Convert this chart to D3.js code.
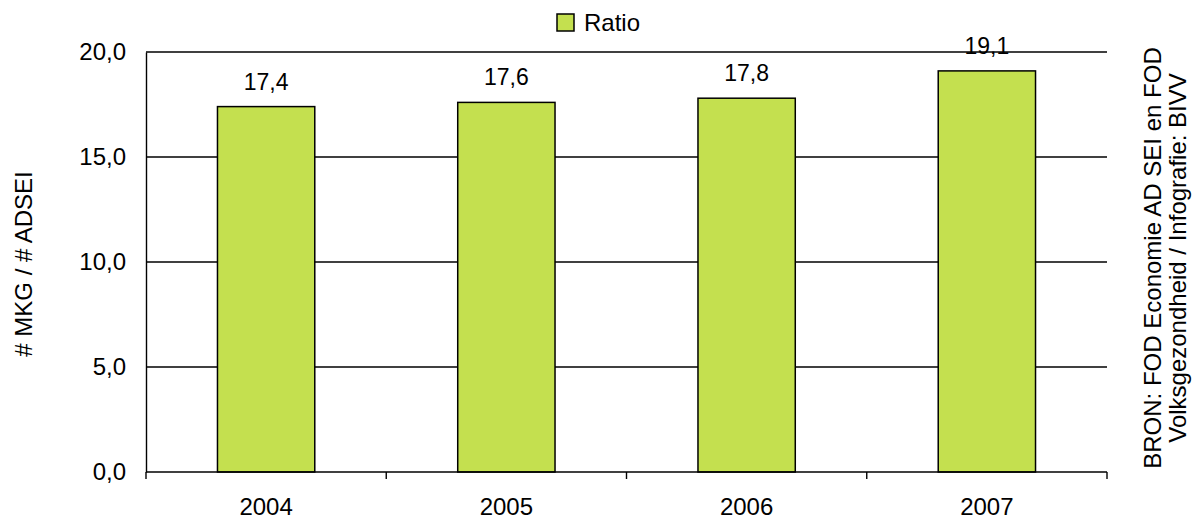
<!DOCTYPE html>
<html>
<head>
<meta charset="utf-8">
<script src="https://cdn.jsdelivr.net/npm/d3@7"></script>
<style>
  body { margin: 0; background: #fff; }
  svg { display: block; font-family: "Liberation Sans", Arial, sans-serif; }
</style>
</head>
<body>
<div id="chart"></div>
<script>
const years = ['2004', '2005', '2006', '2007'];
const ratio = [17.4, 17.6, 17.8, 19.1];
const yTicks = [0, 5, 10, 15, 20];
const seriesName = 'Ratio';
const yTitle = '# MKG / # ADSEI';
const sourceLines = ['BRON: FOD Economie AD SEI en FOD', 'Volksgezondheid / Infografie: BIVV'];

const width = 1192, height = 520;
const margin = { top: 52, right: 85, bottom: 48, left: 146 };
const barColor = '#c4e04f';
const fontSize = 24;
const fmt = v => d3.format('.1f')(v).replace('.', ',');

const svg = d3.select('#chart').append('svg')
  .attr('width', width)
  .attr('height', height);

const x = d3.scaleBand()
  .domain(years)
  .range([margin.left, width - margin.right])
  .paddingInner(0.595)
  .paddingOuter(0.2975);

const y = d3.scaleLinear()
  .domain([0, 20])
  .range([height - margin.bottom, margin.top]);

// gridlines
svg.append('g')
  .selectAll('line')
  .data(yTicks.filter(d => d > 0))
  .join('line')
  .attr('x1', margin.left)
  .attr('x2', width - margin.right)
  .attr('y1', d => y(d))
  .attr('y2', d => y(d))
  .attr('stroke', '#000')
  .attr('stroke-width', 1.4);

// y axis (no tick marks)
const yAxis = svg.append('g')
  .attr('transform', `translate(${margin.left},0)`)
  .call(d3.axisLeft(y).tickValues(yTicks).tickFormat(fmt).tickSize(0).tickPadding(20));
yAxis.select('.domain').attr('stroke', '#000').attr('stroke-width', 1.4);
yAxis.selectAll('text').attr('font-size', fontSize).attr('fill', '#000')
  .attr('font-family', '"Liberation Sans", Arial, sans-serif');

// bars
svg.append('g')
  .selectAll('rect')
  .data(years)
  .join('rect')
  .attr('x', d => x(d))
  .attr('y', (d, i) => y(ratio[i]))
  .attr('width', x.bandwidth())
  .attr('height', (d, i) => y(0) - y(ratio[i]))
  .attr('fill', barColor)
  .attr('stroke', '#000')
  .attr('stroke-width', 1.5);

// x axis with ticks between categories
const xg = svg.append('g');
const x0 = margin.left, x1 = width - margin.right;
xg.append('line')
  .attr('x1', x0).attr('x2', x1)
  .attr('y1', y(0)).attr('y2', y(0))
  .attr('stroke', '#000').attr('stroke-width', 1.4);
xg.selectAll('line.tick')
  .data(d3.range(years.length + 1))
  .join('line')
  .attr('class', 'tick')
  .attr('x1', i => x0 + i * (x1 - x0) / years.length)
  .attr('x2', i => x0 + i * (x1 - x0) / years.length)
  .attr('y1', y(0))
  .attr('y2', y(0) + 7)
  .attr('stroke', '#000').attr('stroke-width', 1.4);
xg.selectAll('text')
  .data(years)
  .join('text')
  .attr('x', d => x(d) + x.bandwidth() / 2)
  .attr('y', y(0) + 43)
  .attr('text-anchor', 'middle')
  .attr('font-size', fontSize)
  .text(d => d);

// value labels
svg.append('g')
  .selectAll('text')
  .data(years)
  .join('text')
  .attr('x', d => x(d) + x.bandwidth() / 2)
  .attr('y', (d, i) => y(ratio[i]) - 17)
  .attr('text-anchor', 'middle')
  .attr('font-size', fontSize - 1)
  .text((d, i) => fmt(ratio[i]));

// legend
const lg = svg.append('g').attr('transform', 'translate(557,14)');
lg.append('rect')
  .attr('width', 17).attr('height', 17)
  .attr('fill', barColor)
  .attr('stroke', '#000').attr('stroke-width', 1.5);
lg.append('text')
  .attr('x', 27).attr('y', 17)
  .attr('font-size', fontSize)
  .text(seriesName);

// y title
svg.append('text')
  .attr('transform', 'translate(32,264) rotate(-90)')
  .attr('text-anchor', 'middle')
  .attr('font-size', fontSize)
  .text(yTitle);

// source text
svg.append('g')
  .attr('transform', 'translate(1161,258) rotate(-90)')
  .selectAll('text')
  .data(sourceLines)
  .join('text')
  .attr('x', 0)
  .attr('y', (d, i) => i * 25)
  .attr('text-anchor', 'middle')
  .attr('font-size', fontSize)
  .text(d => d);
</script>
</body>
</html>
